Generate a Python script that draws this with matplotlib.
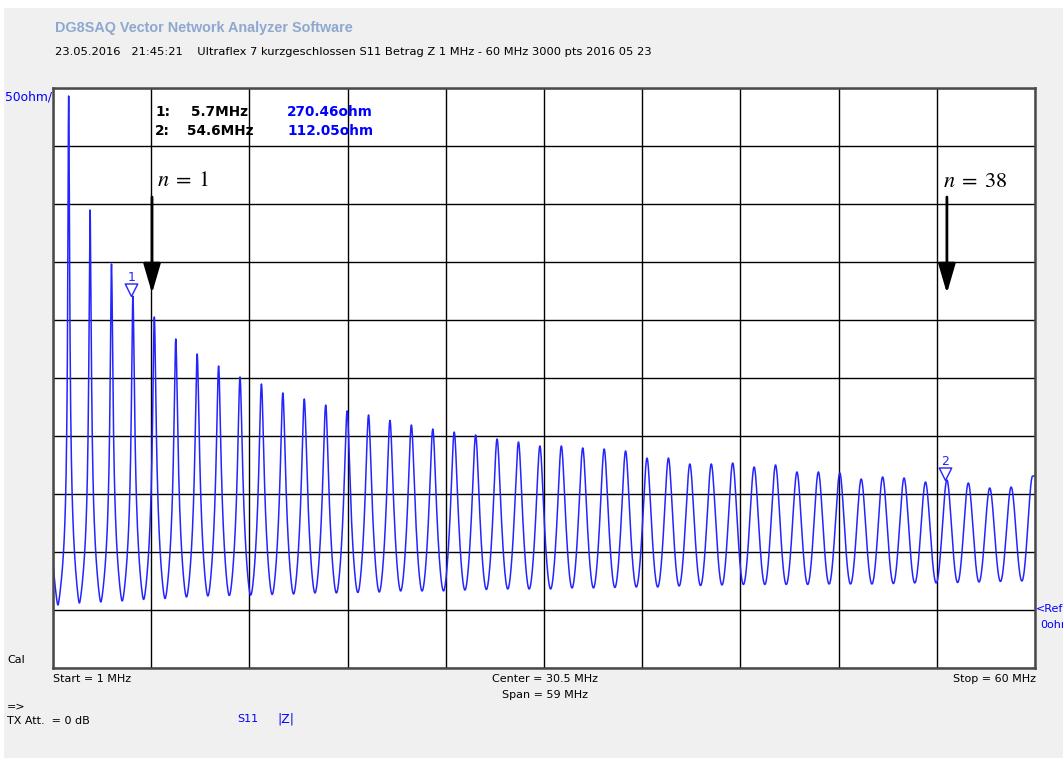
import numpy as np
import matplotlib
matplotlib.use("Agg")
import matplotlib.pyplot as plt
from matplotlib.patches import Rectangle
from matplotlib.path import Path

# ---------------- data ----------------
f_start, f_stop = 1.0, 60.0          # MHz
ref_div = 50.0                       # ohm / division
peak_freq = [1.940, 3.227, 4.514, 5.801, 7.088, 8.375, 9.662, 10.949, 12.236, 13.523,
             14.810, 16.097, 17.384, 18.671, 19.958, 21.245, 22.532, 23.819, 25.106, 26.393,
             27.680, 28.967, 30.254, 31.541, 32.828, 34.115, 35.402, 36.689, 37.976, 39.263,
             40.550, 41.837, 43.124, 44.411, 45.698, 46.985, 48.272, 49.559, 50.846, 52.133,
             53.420, 54.707, 55.994, 57.281, 58.568, 59.855]
peak_ohm = [443.1, 344.8, 298.3, 270.5, 252.6, 233.6, 220.7, 210.3, 200.9, 194.8,
            187.1, 181.9, 176.7, 171.6, 168.1, 163.4, 159.5, 156.0, 153.4, 150.9,
            147.4, 144.8, 141.4, 141.4, 139.7, 138.8, 137.1, 131.0, 131.0, 125.9,
            125.9, 126.7, 123.3, 125.0, 119.0, 119.0, 118.1, 112.9, 114.7, 113.8,
            110.3, 112.05, 109.5, 105.2, 106.0, 115.5]
trough_ohm = [4.3, 6.0, 6.9, 7.8, 9.1, 9.9, 11.2, 12.1, 12.5, 12.9,
              13.4, 13.8, 14.7, 14.7, 15.1, 15.5, 16.4, 16.4, 16.4, 17.2,
              17.7, 18.1, 18.1, 18.1, 19.0, 19.0, 19.4, 19.8, 19.8, 20.7,
              21.1, 21.6, 22.0, 22.0, 22.0, 22.0, 22.4, 22.4, 22.4, 22.8,
              23.3, 23.3, 23.7, 24.1, 24.6, 25.0]
n_points = 3000
markers = [(5.7, 270.46, "1"), (54.6, 112.05, "2")]

# ---------------- trace rendering (lossy line resonance shape) ----------------
pf = np.array(peak_freq)
pv = np.array(peak_ohm)
tv = np.array(trough_ohm)
half = (pf[1] - pf[0]) / 2
tf = np.concatenate([[pf[0] - half], (pf[:-1] + pf[1:]) / 2])
bf = np.empty(2 * len(pf)); bf[0::2] = tf; bf[1::2] = pf


def shape(theta, P, T):
    zm = (1.0 + 0.02 * T) * np.sqrt(P * T)
    a = np.arctanh(zm / P)
    base = zm * np.abs(np.tanh(a + 1j * theta))
    return base - (zm * zm / P - T) * np.cos(theta) ** 2


freq = np.union1d(np.linspace(f_start, f_stop, n_points), pf)
z = np.empty_like(freq)
nb = len(bf)
for i, f in enumerate(freq):
    j = np.searchsorted(bf, f) - 1
    if j < 0:
        k = 0; ft = tf[0]; fp = tf[0] - half; T = tv[0]
    elif j >= nb - 1:
        k = len(pf) - 1; ft = tf[k]; fp = pf[k]; T = tv[k]
    elif j % 2 == 0:
        k = j // 2; ft = tf[k]; fp = pf[k]; T = tv[k]
    else:
        k = j // 2; fp = pf[k]; ft = tf[k + 1]; T = tv[k + 1]
    theta = (np.pi / 2) * min(abs(f - ft) / abs(fp - ft), 1.0)
    z[i] = shape(theta, pv[k], T)

# ---------------- figure ----------------
W, H = 1063, 758
fig = plt.figure(figsize=(W / 100, H / 100), dpi=100, facecolor="white")


def fx(x):
    return x / W


def fy(y):
    return 1 - y / H


fig.patches.append(Rectangle((fx(4), 0), 1 - fx(4), fy(8), transform=fig.transFigure,
                             facecolor="#f0f0f0", edgecolor="none", zorder=-10))

L, R, T_, B = 53, 1035, 88, 668
ax = fig.add_axes([fx(L), fy(B), fx(R) - fx(L), fy(T_) - fy(B)])
ax.set_facecolor("white")
ax.set_xlim(f_start, f_stop)
ax.set_ylim(-ref_div, 9 * ref_div)
ax.set_xticks(np.linspace(f_start, f_stop, 11))
ax.set_yticks(np.arange(-1, 10) * ref_div)
ax.tick_params(length=0, labelbottom=False, labelleft=False)
ax.grid(True, color="black", lw=1.0)
for s in ax.spines.values():
    s.set_color("#4a4a4a")
    s.set_linewidth(1.8)

blue = "#2424ff"
ax.plot(freq, z, color=blue, lw=1.1, zorder=2)

# markers
tri = Path([(-0.5, 1.0), (0.5, 1.0), (0.0, 0.0), (-0.5, 1.0)],
           [Path.MOVETO, Path.LINETO, Path.LINETO, Path.CLOSEPOLY])
for mf, mv, lab in markers:
    ax.plot([mf], [mv], marker=tri, ms=18, mfc="none", mec=blue, mew=1.0, zorder=3)
    ax.annotate(lab, (mf, mv), xytext=(0, 19), textcoords="offset pixels",
                ha="center", va="center", color=blue, fontsize=9, zorder=3)

# marker readouts
mk_font = dict(fontsize=9.8, fontweight="bold", family="DejaVu Sans", va="center")
fig.text(fx(155), fy(112), "1:", color="black", **mk_font)
fig.text(fx(191), fy(112), "5.7MHz", color="black", **mk_font)
fig.text(fx(287), fy(112), "270.46ohm", color="#0000ff", **mk_font)
fig.text(fx(155), fy(131), "2:", color="black", **mk_font)
fig.text(fx(187), fy(131), "54.6MHz", color="black", **mk_font)
fig.text(fx(287), fy(131), "112.05ohm", color="#0000ff", **mk_font)

# n annotations with arrows
plt.rcParams["mathtext.fontset"] = "stix"
fig.text(fx(157), fy(180), r"$n\;=\;1$", fontsize=16, va="center", ha="left")
fig.text(fx(943), fy(181), r"$n\;=\;38$", fontsize=16, va="center", ha="left")
for af in (6.95, 54.707):
    ax.annotate("", xy=(af, 273), xytext=(af, 356),
                arrowprops=dict(arrowstyle="-|>,head_length=1.3,head_width=0.38",
                                color="black", lw=2.0, mutation_scale=14,
                                shrinkA=0, shrinkB=0),
                zorder=4)

# header
fig.text(fx(55), fy(28), "DG8SAQ Vector Network Analyzer Software", color="#8ea8cf",
         fontsize=10.4, fontweight="bold", family="Liberation Sans", va="center")
fig.text(fx(55), fy(52),
         "23.05.2016   21:45:21    Ultraflex 7 kurzgeschlossen S11 Betrag Z 1 MHz - 60 MHz 3000 pts 2016 05 23",
         color="black", fontsize=8.25, family="DejaVu Sans", va="center")

ui = dict(fontsize=8.0, family="DejaVu Sans", va="center")
fig.text(fx(5), fy(97), "50ohm/", color="#0000ff", fontsize=8.8, family="DejaVu Sans", va="center")
fig.text(fx(7), fy(660), "Cal", color="black", **ui)
fig.text(fx(53), fy(679), "Start = 1 MHz", color="black", **ui)
fig.text(fx(545), fy(679), "Center = 30.5 MHz", color="black", ha="center", **ui)
fig.text(fx(545), fy(695), "Span = 59 MHz", color="black", ha="center", **ui)
fig.text(fx(1036), fy(679), "Stop = 60 MHz", color="black", ha="right", **ui)
fig.text(fx(7), fy(706), "=>", color="black", **ui)
fig.text(fx(7), fy(721), "TX Att.  = 0 dB", color="black", **ui)
fig.text(fx(237), fy(719), "S11", color="#0000ff", **ui)
fig.text(fx(277), fy(719), "|Z|", color="#0000ff", fontsize=9.0, family="DejaVu Sans", va="center")
fig.text(fx(1036), fy(609), "<Ref", color="#0000ff", **ui)
fig.text(fx(1040), fy(625), "0ohm", color="#0000ff", **ui)

fig.savefig("out.png", dpi=100, facecolor=fig.get_facecolor())
